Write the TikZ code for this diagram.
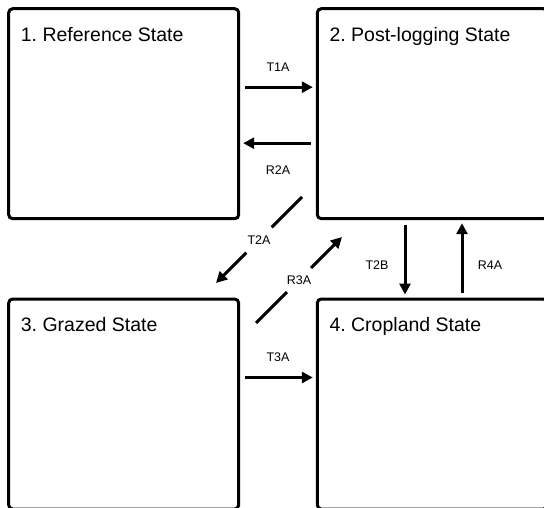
\documentclass[tikz,border=0pt]{standalone}
\usepackage{fontspec}
\setmainfont{Liberation Sans}
\frenchspacing
\usetikzlibrary{arrows.meta,calc}

\tikzset{
  statebox/.style={draw,line width=3pt,rounded corners=4pt,inner sep=0pt,outer sep=0pt,
    minimum width=230pt,minimum height=210pt,anchor=north west},
  statename/.style={anchor=base west,inner sep=0pt,font=\fontsize{19.5}{23}\selectfont},
  trans/.style={inner sep=0pt,font=\fontsize{12.5}{15}\selectfont},
  gap/.style={trans,circle,outer sep=0pt,minimum size=36pt}
}

\begin{document}
\begin{tikzpicture}[x=1pt,y=-1pt]
      \useasboundingbox (0,0) rectangle (544,508);
      \clip (0,0) rectangle (544,508);

      \draw (8.7,8.7) node [statebox] (ref) {};
      \draw (317.3,8.7) node [statebox] (post) {};
      \draw (8.7,299) node [statebox] (graz) {};
      \draw (317.3,299) node [statebox] (crop) {};

      \node [statename] (refname)  at ($(ref.north west)+(12,32.5)$)  {1. Reference State};
      \node [statename] (postname) at ($(post.north west)+(12,32.5)$) {2. Post-logging State};
      \node [statename] (grazname) at ($(graz.north west)+(12,32.5)$) {3. Grazed State};
      \node [statename] (cropname) at ($(crop.north west)+(12,32.5)$) {4. Cropland State};

      \scope[line width=3pt,-{Triangle[length=11pt,width=11pt]},shorten <=6.3pt,shorten >=4.5pt]
        \draw ($(ref.east)+(0,-26.5)$) -- ($(post.west)+(0,-26.5)$)
              node [trans,midway,yshift=19.5pt] (t1a) {T1A};
        \draw ($(post.west)+(0,29.5)$) -- ($(ref.east)+(0,29.5)$)
              node [trans,midway,yshift=-27pt] (r2a) {R2A};
        \draw ($(graz.east)+(0,-26.5)$) -- ($(crop.west)+(0,-26.5)$)
              node [trans,midway,yshift=20pt] (t3a) {T3A};
        \draw ($(post.south)+(-27.3,0)$) -- ($(crop.north)+(-27.3,0)$)
              node [trans,midway,xshift=-28pt,yshift=-6.5pt] (t2b) {T2B};
        \draw ($(crop.north)+(29.7,0)$) -- ($(post.south)+(29.7,0)$)
              node [trans,midway,xshift=28pt,yshift=-6.5pt] (r4a) {R4A};
      \endscope

      % diagonal transitions, broken by their labels
      \coordinate (t2a start) at ($(post.south west)+(-15.3,-21.7)$);
      \coordinate (t2a end)   at ($(graz.north east)+(-22.7,-16)$);
      \coordinate (r3a start) at ($(graz.north east)+(17.3,24)$);
      \coordinate (r3a end)   at ($(post.south west)+(24.7,18.3)$);
      \node [gap] (t2a) at ($(t2a start)!0.5!(t2a end)$) {T2A};
      \node [gap,minimum size=34pt] (r3a) at ($(r3a start)!0.5!(r3a end)$) {R3A};

      \scope[line width=3pt]
        \draw (t2a start) -- (t2a);
        \draw[-{Triangle[length=11pt,width=11pt]}] (t2a) -- (t2a end);
        \draw (r3a start) -- (r3a);
        \draw[-{Triangle[length=11pt,width=11pt]}] (r3a) -- (r3a end);
      \endscope
\end{tikzpicture}
\end{document}
